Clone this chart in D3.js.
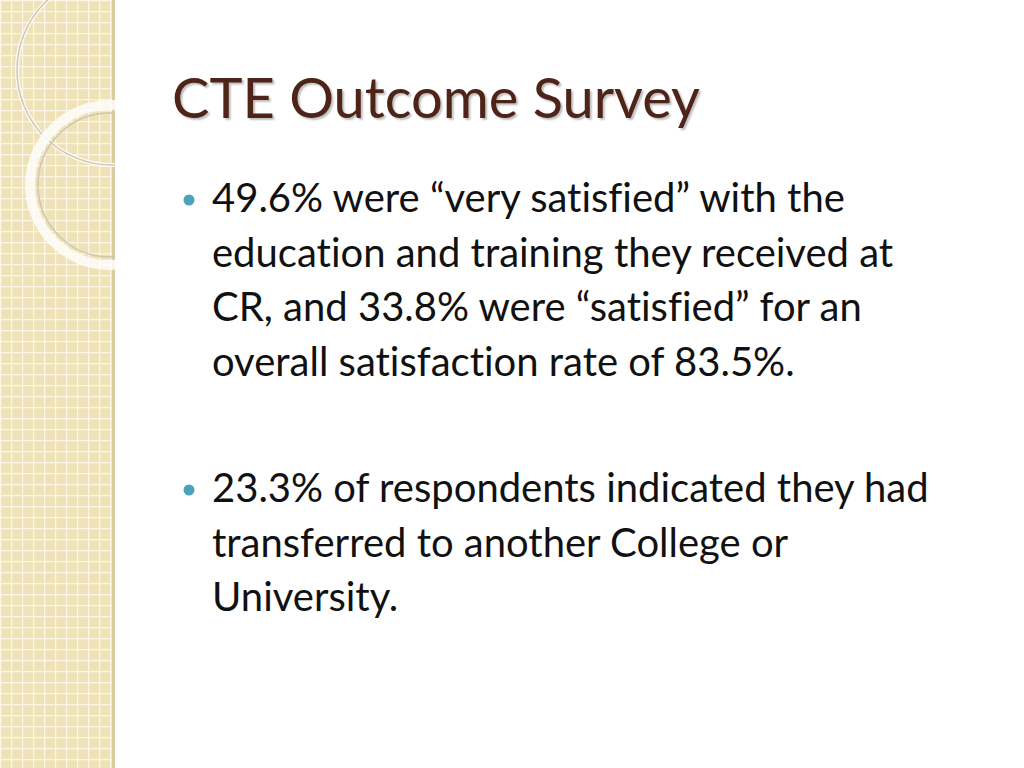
<!DOCTYPE html>
<html><head><meta charset="utf-8">
<script src="https://cdn.jsdelivr.net/npm/d3@7"></script>
<style>body{margin:0;background:#fff}svg{display:block}text{font-variant-ligatures:none}</style>
</head><body>
<script>
const title = "CTE Outcome Survey";
const bullet1 = ["49.6% were “very satisfied” with the","education and training they received at","CR, and 33.8% were “satisfied” for an","overall satisfaction rate of 83.5%."];
const bullet2 = ["23.3% of respondents indicated they had","transferred to another College or","University."];
const bullets = [bullet1, bullet2];

const W=1024,H=768;
const svg=d3.select("body").append("svg").attr("width",W).attr("height",H);
const defs=svg.append("defs");
const pat=defs.append("pattern").attr("id","grid").attr("width",11).attr("height",11).attr("patternUnits","userSpaceOnUse");
pat.append("rect").attr("width",11).attr("height",11).attr("fill","#efe2b8");
pat.append("path").attr("d","M0 0.5H11M0.5 0V11").attr("stroke","#fbf6e6").attr("stroke-width",1.5);
svg.append("rect").attr("x",0).attr("y",0).attr("width",112).attr("height",H).attr("fill","url(#grid)");
svg.append("rect").attr("x",112).attr("y",0).attr("width",3).attr("height",H).attr("fill","#d9cc9e");
const cg=svg.append("g");
cg.append("circle").attr("cx",112).attr("cy",70).attr("r",95).attr("fill","none").attr("stroke","#ffffff").attr("stroke-width",4).attr("opacity",0.85);
cg.append("circle").attr("cx",112).attr("cy",70).attr("r",95).attr("fill","none").attr("stroke","#cfc6b0").attr("stroke-width",1.5);
cg.append("circle").attr("cx",110).attr("cy",185).attr("r",80).attr("fill","none").attr("stroke","#ffffff").attr("stroke-width",10).attr("opacity",0.8);
cg.append("circle").attr("cx",110).attr("cy",185).attr("r",72).attr("fill","none").attr("stroke","#cfc6b0").attr("stroke-width",1.5);
svg.append("rect").attr("x",115).attr("y",0).attr("width",W-115).attr("height",H).attr("fill","#fff");

svg.append("text").attr("x",172).attr("y",118).text(title)
 .attr("font-family","Lato, 'Open Sans', sans-serif").attr("font-size",56).attr("fill","#4e2318")
 .style("text-shadow","2px 2px 2px rgba(0,0,0,0.25)");

const y=d3.scaleLinear().domain([0,1]).range([0,54.5]);
const starts=[212,502];
bullets.forEach((lines,i)=>{
  svg.append("circle").attr("cx",189).attr("cy",starts[i]-12).attr("r",5.5).attr("fill","#4aa3b8");
  lines.forEach((l,j)=>{
    svg.append("text").attr("x",212).attr("y",starts[i]+y(j)).text(l)
     .attr("font-family","Lato, 'Open Sans', sans-serif").attr("font-size",40).attr("fill","#111");
  });
});
</script>
</body></html>
